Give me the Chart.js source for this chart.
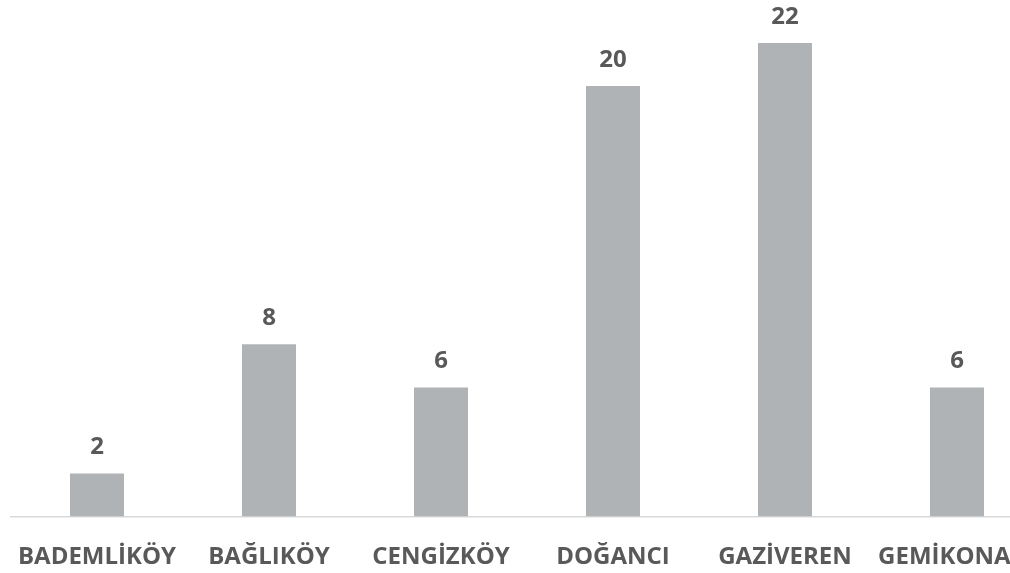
<!DOCTYPE html>
<html>
<head>
<meta charset="utf-8">
<script src="https://cdn.jsdelivr.net/npm/chart.js@4"></script>
<style>
  html, body { margin: 0; padding: 0; background: #fff; overflow: hidden; }
  #clip { width: 1010px; height: 573px; overflow: hidden; }
  canvas { display: block; }
</style>
</head>
<body>
<div id="clip"><canvas id="grafico" width="1044" height="573"></canvas></div>
<script>
const mahalleler = ["BADEMLİKÖY", "BAĞLIKÖY", "CENGİZKÖY", "DOĞANCI", "GAZİVEREN", "GEMİKONAĞI"];
const sayilar = [2, 8, 6, 20, 22, 6];

// write each value above its bar
const degerEtiketleri = {
  id: "degerEtiketleri",
  afterDatasetsDraw(chart) {
    const ctx = chart.ctx;
    const meta = chart.getDatasetMeta(0);
    ctx.save();
    ctx.font = "bold 24px 'Open Sans'";
    ctx.fillStyle = "#595959";
    ctx.textAlign = "center";
    ctx.textBaseline = "alphabetic";
    meta.data.forEach((bar, i) => {
      ctx.fillText(String(chart.data.datasets[0].data[i]), bar.x, bar.y - 19);
    });
    ctx.restore();
  }
};

new Chart(document.querySelector("#grafico"), {
  type: "bar",
  data: {
    labels: mahalleler,
    datasets: [{
      data: sayilar,
      backgroundColor: "#b0b3b6",
      barPercentage: 0.314,
      categoryPercentage: 1
    }]
  },
  options: {
    responsive: false,
    animation: false,
    devicePixelRatio: 1,
    layout: { padding: { left: 11, right: 1, top: 0, bottom: 0 } },
    plugins: { legend: { display: false }, tooltip: { enabled: false } },
    scales: {
      x: {
        grid: { display: false, drawTicks: false },
        border: { display: true, color: "#d9d9d9", width: 1.5 },
        ticks: {
          color: "#595959",
          padding: 26,
          maxRotation: 0,
          autoSkip: false,
          font: { family: "'Open Sans'", size: 24, weight: "bold" }
        },
        // keep the axis band fixed so long names don't squeeze the bars
        afterFit(scale) {
          scale.height = 56.5;
          scale.paddingLeft = 0;
          scale.paddingRight = 0;
        }
      },
      y: { display: false, min: 0, max: 24 }
    }
  },
  plugins: [degerEtiketleri]
});
</script>
</body>
</html>
